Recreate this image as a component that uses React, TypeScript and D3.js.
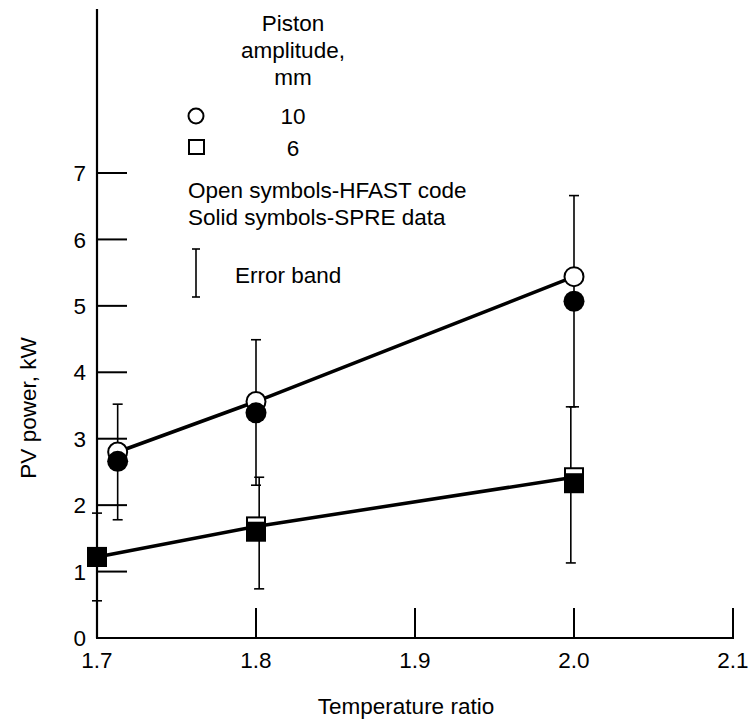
import React from "react";
import * as d3 from "d3";

const xTicks = [1.7, 1.8, 1.9, 2.0, 2.1];
const xTickLabels = ["1.7", "1.8", "1.9", "2.0", "2.1"];
const yTicks = [0, 1, 2, 3, 4, 5, 6, 7];

// HFAST code (open symbols)
const circleOpenX = [1.713, 1.8, 2.0];
const circleOpenY = [2.8, 3.56, 5.44];
const squareOpenX = [1.7, 1.8, 2.0];
const squareOpenY = [1.22, 1.68, 2.42];
// SPRE data (solid symbols)
const circleSolidX = [1.713, 1.8, 2.0];
const circleSolidY = [2.66, 3.39, 5.07];
const squareSolidX = [1.7, 1.8, 2.0];
const squareSolidY = [1.22, 1.6, 2.33];
// error bands
const errX = [1.713, 1.7, 1.8, 1.802, 2.0, 1.998];
const errLow = [1.78, 0.56, 2.3, 0.74, 3.48, 1.13];
const errHigh = [3.52, 1.88, 4.49, 2.42, 6.66, 3.48];

const W = 752;
const H = 726;
const font = "'Liberation Sans', Arial, Helvetica, sans-serif";
const fs = 22.5;

export default function App() {
  const x = d3.scaleLinear().domain([1.7, 2.1]).range([97, 733]);
  const y = d3.scaleLinear().domain([0, 7]).range([638, 173]);
  const line = d3
    .line<[number, number]>()
    .x((d) => x(d[0]))
    .y((d) => y(d[1]));
  const circOpen = circleOpenX.map((v, i) => [v, circleOpenY[i]] as [number, number]);
  const sqOpen = squareOpenX.map((v, i) => [v, squareOpenY[i]] as [number, number]);
  const r = 9.5;
  const s = 18;
  return (
    <svg
      width={W}
      height={H}
      style={{ position: "absolute", left: 0, top: 0, background: "#fff" }}
      fontFamily={font}
    >
      {/* axes */}
      <line x1={x(1.7)} x2={x(1.7)} y1={9} y2={y(0)} stroke="#000" strokeWidth={2.2} />
      <line x1={x(1.7) - 1} x2={x(2.1) + 1} y1={y(0)} y2={y(0)} stroke="#000" strokeWidth={2.2} />
      {yTicks.slice(1).map((t) => (
        <line key={"yt" + t} x1={x(1.7)} x2={x(1.7) + 30} y1={y(t)} y2={y(t)} stroke="#000" strokeWidth={2} />
      ))}
      {xTicks.slice(1).map((t) => (
        <line key={"xt" + t} x1={x(t)} x2={x(t)} y1={y(0)} y2={y(0) - 30} stroke="#000" strokeWidth={2} />
      ))}
      {yTicks.map((t) => (
        <text key={"yl" + t} x={x(1.7) - 11} y={y(t)} dy="0.36em" textAnchor="end" fontSize={fs}>
          {t}
        </text>
      ))}
      {xTicks.map((t, i) => (
        <text key={"xl" + t} x={x(t)} y={y(0) + 30} textAnchor="middle" fontSize={fs}>
          {xTickLabels[i]}
        </text>
      ))}
      <text x={406} y={714} textAnchor="middle" fontSize={fs}>
        Temperature ratio
      </text>
      <text
        transform={`translate(36, 408) rotate(-90)`}
        textAnchor="middle"
        fontSize={fs}
      >
        PV power, kW
      </text>

      {/* error bars */}
      {errX.map((v, i) => (
        <g key={"e" + i} stroke="#000" strokeWidth={1.6}>
          <line x1={x(v)} x2={x(v)} y1={y(errLow[i])} y2={y(errHigh[i])} />
          <line x1={x(v) - 5} x2={x(v) + 5} y1={y(errLow[i])} y2={y(errLow[i])} />
          <line x1={x(v) - 5} x2={x(v) + 5} y1={y(errHigh[i])} y2={y(errHigh[i])} />
        </g>
      ))}

      {/* lines */}
      <path d={line(circOpen) ?? ""} fill="none" stroke="#000" strokeWidth={3.5} />
      <path d={line(sqOpen) ?? ""} fill="none" stroke="#000" strokeWidth={3.5} />

      {/* open symbols */}
      {circOpen.map((d, i) => (
        <circle key={"co" + i} cx={x(d[0])} cy={y(d[1])} r={r} fill="#fff" stroke="#000" strokeWidth={2} />
      ))}
      {sqOpen.map((d, i) => (
        <rect key={"so" + i} x={x(d[0]) - s / 2} y={y(d[1]) - s / 2} width={s} height={s} fill="#fff" stroke="#000" strokeWidth={2} />
      ))}
      {/* solid symbols */}
      {circleSolidX.map((v, i) => (
        <circle key={"cs" + i} cx={x(v)} cy={y(circleSolidY[i])} r={r + 1} fill="#000" />
      ))}
      {squareSolidX.map((v, i) => (
        <rect key={"ss" + i} x={x(v) - s / 2 - 1} y={y(squareSolidY[i]) - s / 2 - 1} width={s + 2} height={s + 2} fill="#000" />
      ))}

      {/* legend */}
      <g fontSize={fs} textAnchor="middle">
        <text x={293} y={31}>Piston</text>
        <text x={293} y={58}>amplitude,</text>
        <text x={293} y={85}>mm</text>
        <text x={293} y={124}>10</text>
        <text x={293} y={156}>6</text>
      </g>
      <circle cx={196} cy={116} r={7.5} fill="#fff" stroke="#000" strokeWidth={2} />
      <rect x={189} y={140} width={15} height={14} fill="#fff" stroke="#000" strokeWidth={2} />
      <g fontSize={fs}>
        <text x={188} y={198}>Open symbols-HFAST code</text>
        <text x={188} y={225}>Solid symbols-SPRE data</text>
        <text x={235} y={283}>Error band</text>
      </g>
      <g stroke="#000" strokeWidth={1.6}>
        <line x1={196} x2={196} y1={249} y2={297} />
        <line x1={192} x2={200} y1={249} y2={249} />
        <line x1={192} x2={200} y1={297} y2={297} />
      </g>
    </svg>
  );
}
